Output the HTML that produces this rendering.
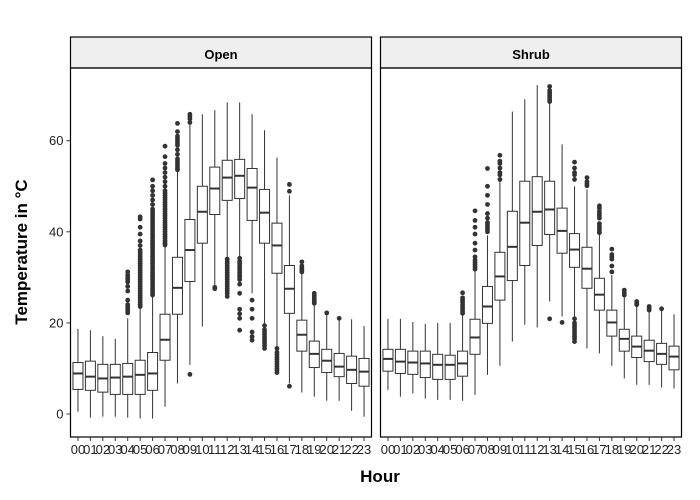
<!DOCTYPE html>
<html><head><meta charset="utf-8"><style>
body{margin:0;background:#fff}
svg{display:block;font-family:"Liberation Sans",Arial,sans-serif}
</style></head><body>
<svg id="chart" width="700" height="500">
<text x="27" y="252" transform="rotate(-90 27 252)" text-anchor="middle" font-size="17" font-weight="bold" fill="#000">Temperature in °C</text>
<text x="380" y="482" text-anchor="middle" font-size="17" font-weight="bold" fill="#000">Hour</text>
</svg>
<script>
const hours=["00","01","02","03","04","05","06","07","08","09","10","11","12","13","14","15","16","17","18","19","20","21","22","23"];
const yTicks=[0,20,40,60];
const panels=["Open","Shrub"];
// [lower whisker, q1, median, q3, upper whisker] per hour
const openStats=[
[0.5,5.4,8.9,11.3,18.7],[-0.8,5.2,8.2,11.6,18.4],[-0.6,4.8,7.8,10.9,17.1],[-0.6,4.3,8.0,10.9,16.5],
[-0.8,4.3,8.2,11.1,21.0],[-1.0,4.3,8.6,11.8,23.2],[-1.0,5.2,8.9,13.5,26.0],[1.6,11.8,16.3,21.9,37.0],
[6.7,21.9,27.7,34.4,53.4],[10.8,29.1,36.0,42.7,63.5],[19.2,37.5,44.4,50.0,65.8],[28.2,43.8,49.5,54.2,66.7],
[34.2,46.9,51.9,55.7,68.4],[34.5,47.3,52.3,55.9,68.4],[26.5,42.5,49.7,53.9,65.8],[19.9,37.5,44.2,49.3,62.3],
[14.4,30.9,37.0,41.9,56.3],[6.7,22.1,27.5,32.6,48.0],[4.7,13.8,17.4,20.6,32.3],[3.8,10.2,13.2,16.0,23.9],
[2.9,9.1,11.7,14.2,22.2],[2.9,8.2,10.4,13.3,20.6],[0.7,6.7,9.7,12.7,20.8],[-0.6,6.1,9.3,12.2,19.3]];
const shrubStats=[
[5.3,9.4,12.1,14.2,20.9],[3.8,8.9,11.5,14.2,20.9],[4.5,8.7,11.3,13.8,20.2],[3.4,8.0,11.1,13.8,19.8],
[3.1,7.6,10.8,13.1,20.0],[3.1,7.6,10.8,12.9,20.0],[2.9,8.3,11.1,13.8,21.9],[4.2,13.1,16.8,20.8,31.5],
[8.6,19.9,23.6,28.0,39.2],[10.6,25.0,30.2,35.5,51.3],[15.9,29.3,36.7,44.5,66.4],[19.6,32.6,42.0,51.1,69.1],
[19.0,37.0,44.4,52.1,72.2],[24.7,39.4,44.9,51.1,68.4],[21.4,35.3,40.2,45.2,59.2],[21.2,32.2,36.1,39.6,50.0],
[14.4,27.6,31.9,36.6,49.3],[13.3,22.8,26.2,29.8,39.7],[10.6,17.1,20.1,22.8,30.5],[7.8,13.8,16.5,18.6,25.8],
[6.4,12.4,14.8,17.1,24.0],[6.4,11.5,13.9,16.2,23.2],[5.8,10.9,13.2,15.5,22.8],[5.6,9.7,12.6,14.9,21.9]];
const openOutliers=[[],[],[],[],
[22.2,22.6,23,23.5,24,25,27,28,29,29.5,30,30.5,31.2],
[23.6,24,24.5,25,25.5,26,26.5,27,27.5,28,28.5,29,29.5,30,30.5,31,31.5,32,32.5,33,33.5,34,34.5,35,35.5,36,37,38,39.5,41,42.8,43.3],
[26.1,26.5,27,27.5,28,28.5,29,29.5,30,30.5,31,31.5,32,32.5,33,33.5,34,34.5,35,35.5,36,36.5,37,37.5,38,38.5,39,39.5,40,40.5,41,41.5,42,42.5,43,43.5,44,44.5,45,46,47,48,49,50,51.4],
[37.1,37.5,38,38.5,39,39.5,40,40.5,41,41.5,42,42.5,43,43.5,44,44.5,45,45.5,46,46.5,47,47.5,48,48.5,49,50,51,52,53,54,55,56.5,58.8],
[53.6,54,54.5,55,55.5,56,57,58,59,59.5,60,60.5,61,62,63.8],
[8.7,64,64.8,65.3,65.8],[],[27.5,27.8],
[25.8,26.5,27,27.5,28,28.5,29,29.5,30,30.5,31,31.5,32,32.5,33,33.5,34],
[18.4,21,22,23,26.5,28.5,29.5,30,30.5,31,31.5,32,32.5,33,33.5,34.2],
[16.2,17,18,21,23,25],
[14.4,15,15.5,16,16.5,17,17.5,18,18.5,19.4],
[9.1,9.6,10,10.5,11,11.5,12,12.5,13,13.5,14.4],
[6.1,48.9,50.4],[31.2,31.6,32,32.5,33.4],[24.3,24.7,25,25.5,26,26.5],[22.2],[21],[],[]];
const shrubOutliers=[[],[],[],[],[],[],
[22.1,22.5,23,23.5,24,24.5,25,25.5,26.6],
[31.8,32.3,32.8,33.3,33.8,34.5,36,37.5,39.5,41,42.5,44.6],
[40,40.5,41,41.5,42,43,44,46,48,50,53.9],
[51.5,52.5,53,54,55,55.5,56.8],[],[],[],
[20.9,68.6,69,69.5,70,70.5,71,71.9],[20.1],
[15.9,16.5,17,17.5,18,18.5,19,19.5,20,20.9,51.5,52.5,53,54,55.3],
[50.1,50.5,51,51.9],[39.8,40.3,40.8,41.3,41.8,43,43.5,44,44.5,45.2,45.7],[31.2,32.5,34,34.5,35,36.2],[26.1,26.6,27.2],[24,24.3,24.7],[22.8,23.2,23.6],[23.1],[]];

const svg=document.getElementById('chart');
const NS='http://www.w3.org/2000/svg';
const panelX=[70.5,380.5], panelW=301, plotTop=68, plotBot=437, stripTop=37;
const yv=v=>414-4.555*v;
const allStats=[openStats,shrubStats], allOut=[openOutliers,shrubOutliers];
function el(tag,attrs,parent){const e=document.createElementNS(NS,tag);for(const k in attrs)e.setAttribute(k,attrs[k]);(parent||svg).appendChild(e);return e;}

panels.forEach((p,pi)=>{
  const x0=panelX[pi];
  const step=panelW/24.2;
  const xv=i=>x0+step*(i+0.6);
  const g=el('g',{});
  
  
  const strip=el('rect',{x:x0,y:stripTop,width:panelW,height:plotTop-stripTop,fill:'#efefef',stroke:'#000','stroke-width':1.2},g);
  
  
  const st=el('text',{x:x0+panelW/2,y:59,'text-anchor':'middle','font-size':13,'font-weight':'bold'},g);
  st.textContent=p;
  
  
  const frame=el('rect',{x:x0,y:plotTop,width:panelW,height:plotBot-plotTop,fill:'none',stroke:'#000','stroke-width':1.2},g);
  
  
  if(pi===0){
    yTicks.forEach(t=>{
      el('line',{x1:x0-4,x2:x0,y1:yv(t),y2:yv(t),stroke:'#333'},g);
      const tl=el('text',{x:x0-7,y:yv(t)+4.5,'text-anchor':'end','font-size':13,fill:'#222'},g);
      tl.textContent=t;
      
      
    });
  }
  hours.forEach((h,i)=>{
    const cx=xv(i);
    el('line',{x1:cx,x2:cx,y1:plotBot,y2:plotBot+4,stroke:'#333'},g);
    const xl=el('text',{x:cx,y:plotBot+17,'text-anchor':'middle','font-size':13,fill:'#222'},g);
    xl.textContent=h;
    
    
    const s=allStats[pi][i];
    const bg=el('g',{},g);
    
    
    const hw=5;
    el('line',{x1:cx,x2:cx,y1:yv(s[0]),y2:yv(s[1]),stroke:'#333','stroke-width':1},bg);
    el('line',{x1:cx,x2:cx,y1:yv(s[3]),y2:yv(s[4]),stroke:'#333','stroke-width':1},bg);
    el('rect',{x:cx-hw,y:yv(s[3]),width:2*hw,height:yv(s[1])-yv(s[3]),fill:'#fff',stroke:'#333','stroke-width':1},bg);
    el('line',{x1:cx-hw,x2:cx+hw,y1:yv(s[2]),y2:yv(s[2]),stroke:'#333','stroke-width':2},bg);
    allOut[pi][i].forEach(o=>{
      el('circle',{cx:cx,cy:yv(o),r:2.4,fill:'#333'},bg);
    });
  });
});
</script>
</body></html>
